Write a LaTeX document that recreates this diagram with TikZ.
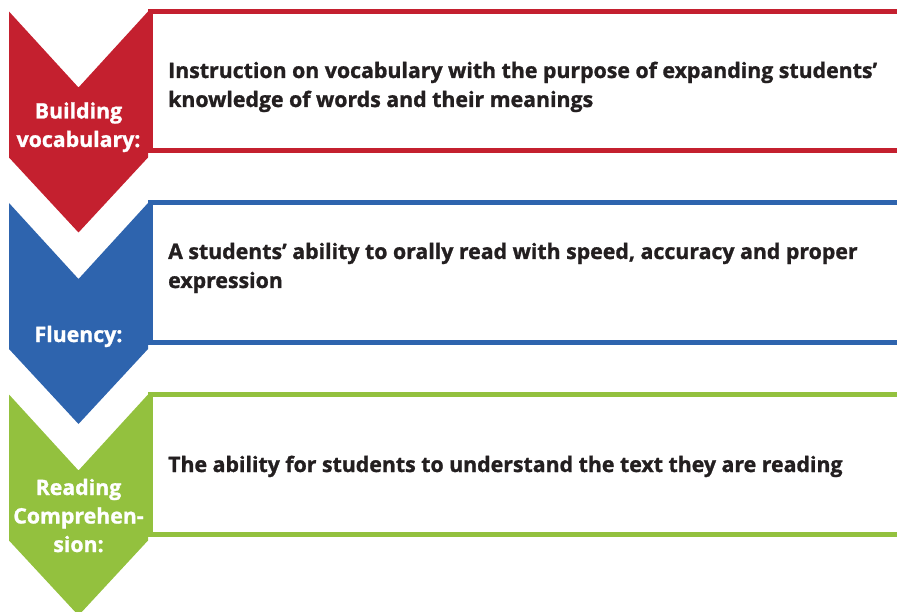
\documentclass[tikz,border=0pt]{standalone}
\usepackage{fontspec}
\setmainfont{Open Sans}[BoldFeatures={FakeBold=1.2}]
\definecolor{cred}{HTML}{C4202F}
\definecolor{cblue}{HTML}{2E64AE}
\definecolor{cgreen}{HTML}{93C13E}
\definecolor{ctext}{HTML}{231F20}
\begin{document}
\begin{tikzpicture}[x=1pt,y=-1pt,
  frame/.style={line width=5pt},
  desc/.style={anchor=base west,inner sep=0pt,text=ctext,font=\fontsize{21.3}{29}\selectfont\bfseries,align=left},
  lbl/.style={anchor=base,inner sep=0pt,text=white,font=\fontsize{21.3}{28.5}\selectfont\bfseries,align=center}]
\useasboundingbox (0,0) rectangle (897,612);
\clip (0,0) rectangle (897,612);
\foreach \T/\c in {11.5/cred,203/cblue,394.5/cgreen}{
  \fill[\c] (9,\T) -- (78.5,\T+76) -- (148,\T) -- (148,\T+146) -- (78.5,\T+221) -- (9,\T+146) -- cycle;
  \draw[frame,\c] (905,\T) -- (150.5,\T) -- (150.5,\T+139.5) -- (905,\T+139.5);
}
\node[lbl] (l1) at (78.5,147) {Building\\vocabulary:};
\node[lbl] (l2) at (78.5,342) {Fluency:};
\node[lbl] (l3) at (78.5,552) {Reading\\Comprehen-\\sion:};
\node[desc] (d1) at (168,107) {Instruction on vocabulary with the purpose of expanding students’\\knowledge of words and their meanings};
\node[desc] (d2) at (168,288) {A students’ ability to orally read with speed, accuracy and proper\\expression};
\node[desc] (d3) at (168,472) {The ability for students to understand the text they are reading};
\end{tikzpicture}
\end{document}
